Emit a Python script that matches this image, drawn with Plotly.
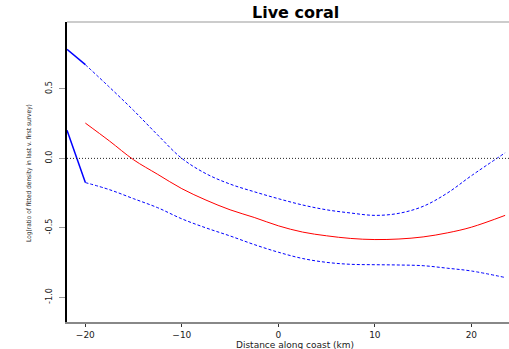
import plotly.graph_objects as go

# ---- data ----
x_grid = [-20, -17.5, -15, -12.5, -10, -7.5, -5, -2.5, 0, 2.5, 5, 7.5, 10, 12.5, 15, 17.5, 20, 23.5]
fit = [0.254, 0.125, -0.01, -0.115, -0.218, -0.30, -0.37, -0.425, -0.485, -0.53, -0.557, -0.576,
       -0.584, -0.58, -0.565, -0.536, -0.495, -0.41]
upper = [0.674, 0.512, 0.345, 0.168, 0.0, -0.11, -0.185, -0.24, -0.29, -0.335, -0.37, -0.393,
         -0.41, -0.395, -0.345, -0.25, -0.125, 0.04]
lower = [-0.174, -0.225, -0.29, -0.355, -0.435, -0.50, -0.558, -0.62, -0.675, -0.72, -0.748, -0.762,
         -0.765, -0.767, -0.772, -0.79, -0.81, -0.857]
# solid segments at the left edge
edge_x = [-21.9, -20]
edge_upper = [0.784, 0.674]
edge_lower = [0.202, -0.174]

x_ticks = [-20, -10, 0, 10, 20]
y_ticks = [0.5, 0.0, -0.5, -1.0]
y_ticklabels = ["0.5", "0.0", "-0.5", "-1.0"]

title_text = "Live coral"
x_title = "Distance along coast (km)"
y_title = "Log(ratio of fitted density in last v. first survey)"

BLUE = "#0000FF"
RED = "#FF0000"
NARROW = "Liberation Sans Narrow, DejaVu Sans Condensed, Arial Narrow, sans-serif"

fig = go.Figure()
fig.add_trace(go.Scatter(x=x_grid, y=upper, mode="lines", line_shape="spline",
                         line=dict(color=BLUE, width=1, dash="3px,2px"), showlegend=False))
fig.add_trace(go.Scatter(x=x_grid, y=lower, mode="lines", line_shape="spline",
                         line=dict(color=BLUE, width=1, dash="3px,2px"), showlegend=False))
fig.add_trace(go.Scatter(x=x_grid, y=fit, mode="lines", line_shape="spline",
                         line=dict(color=RED, width=1), showlegend=False))
fig.add_trace(go.Scatter(x=edge_x, y=edge_upper, mode="lines",
                         line=dict(color=BLUE, width=1.5), showlegend=False))
fig.add_trace(go.Scatter(x=edge_x, y=edge_lower, mode="lines",
                         line=dict(color=BLUE, width=1.5), showlegend=False))

fig.add_hline(y=0, line=dict(color="#222222", width=1, dash="1px,2px"))
# top frame line
fig.add_shape(type="line", xref="paper", yref="paper", x0=0, x1=1, y0=1, y1=1,
              line=dict(color="#999999", width=1))

fig.update_layout(
    width=509, height=349,
    margin=dict(l=67, r=0, t=22, b=27),
    plot_bgcolor="white", paper_bgcolor="white",
    showlegend=False,
    xaxis=dict(range=[-21.9, 23.9], tickvals=x_ticks, ticks="outside", ticklen=3,
               tickcolor="#333333", tickwidth=1,
               showline=True, linecolor="#888888", linewidth=2,
               showgrid=False, zeroline=False,
               tickfont=dict(family="DejaVu Sans, sans-serif", size=9, color="#222222")),
    yaxis=dict(range=[-1.177, 0.981], tickvals=y_ticks, ticktext=y_ticklabels,
               ticks="outside", ticklen=6, tickcolor="#999999", tickwidth=1,
               tickangle=-90, ticklabelstandoff=3,
               showline=True, linecolor="black", linewidth=2,
               showgrid=False, zeroline=False,
               tickfont=dict(family=NARROW, size=9, color="#222222")),
    annotations=[
        dict(text=f"<b>{title_text}</b>", xref="paper", yref="paper", x=0.516, y=1.033,
             xanchor="center", yanchor="middle", showarrow=False,
             font=dict(family="DejaVu Sans, sans-serif", size=16, color="black")),
        dict(text=x_title, xref="paper", yref="paper", x=0.516, y=-0.077,
             xanchor="center", yanchor="middle", showarrow=False,
             font=dict(family="DejaVu Sans, sans-serif", size=9, color="#222222")),
        dict(text=y_title, xref="paper", yref="paper", x=-0.086, y=0.497,
             xanchor="center", yanchor="middle", showarrow=False, textangle=-90,
             font=dict(family=NARROW, size=6.5, color="#222222")),
    ],
)

fig.write_html("out.html")
